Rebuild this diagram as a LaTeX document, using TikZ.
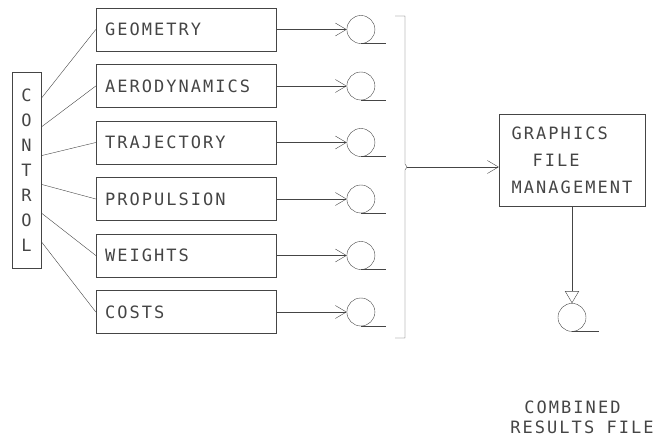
\documentclass[tikz,border=0pt]{standalone}
\usepackage{fontspec}
\newfontfamily\plotfont[LetterSpace=12]{DejaVu Sans Mono}
\usetikzlibrary{arrows.meta,calc,positioning}
\definecolor{ink}{HTML}{454545}
\tikzset{x=1pt,y=1pt,line width=.8pt,
  every node/.style={font=\plotfont\fontsize{17}{25}\selectfont,text=ink},
  module/.style={draw=ink,minimum width=180pt,minimum height=43pt,
    text width=162pt,inner xsep=9pt,align=left},
  tape/.style={circle,draw=ink,minimum size=28pt,inner sep=0pt},
  link/.style={draw=ink},
  flow/.style={draw=ink,-{Straight Barb[length=11pt,width=13pt]}},
  store/.style={draw=ink,-{Triangle[open,length=12pt,width=14pt]}}}
\begin{document}
\begin{tikzpicture}
\useasboundingbox (0,0) rectangle (659,441);
% control column
\node[draw=ink,minimum width=29pt,minimum height=196pt,inner sep=0pt,align=center] (ctrl) at (26.5,271) {C\\O\\N\\T\\R\\O\\L};
% analysis modules
\node[module] (geo) at (186,411.5) {GEOMETRY};
\node[module,below=13.1pt of geo] (aero) {AERODYNAMICS};
\node[module,below=13.1pt of aero] (traj) {TRAJECTORY};
\node[module,below=13.1pt of traj] (prop) {PROPULSION};
\node[module,below=13.1pt of prop] (wts) {WEIGHTS};
\node[module,below=13.1pt of wts] (cost) {COSTS};
\foreach \m [count=\i] in {geo,aero,traj,prop,wts,cost}{
\draw[link] ($(ctrl.east)+(0,{(3.5-\i)*28.6})$) -- (\m.west);
\node[tape,right=70.5pt of \m] (t\i) {};
\draw[flow] (\m) -- (t\i);
\draw[link] (t\i.south) -- ++(25,0);}
% collecting bracket
\coordinate (bt) at (405,425);
\coordinate (bb) at (405,103);
\coordinate (bm) at (405,274);
\draw[link] ($(bt)+(-10,0)$) -- (bt) -- ($(bm)+(0,3)$) -- ($(bm)+(2,0)$) -- ($(bm)+(0,-3)$) -- (bb) -- ++(-10,0);
% graphics file management
\node[draw=ink,minimum width=146pt,minimum height=92pt,align=left,
  font=\plotfont\fontsize{17}{27}\selectfont] (gfm) at (572,281) {GRAPHICS\\\hspace*{21pt}FILE\\MANAGEMENT};
\draw[flow] ($(bm)+(2,0)$) -- (bm -| gfm.west);
\node[tape,below=97pt of gfm] (res) {};
\draw[store] (gfm) -- (res);
\draw[link] (res.south) -- ++(27,0);
\node[align=left,font=\plotfont\fontsize{17}{20}\selectfont] (lbl) at (582,24) {\hspace*{14pt}COMBINED\\RESULTS FILE};
\end{tikzpicture}
\end{document}
